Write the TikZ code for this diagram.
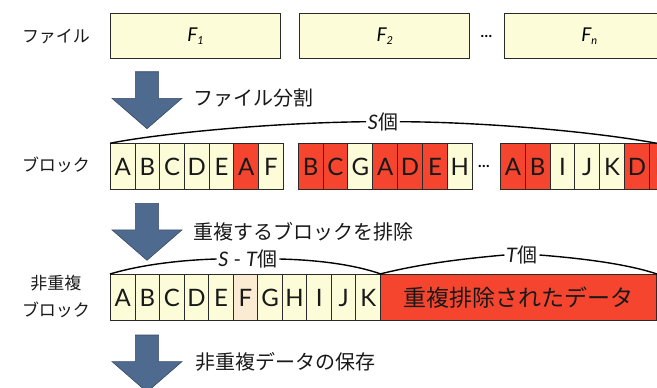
\documentclass[tikz,border=0pt]{standalone}
\usepackage{fontspec}
\setmainfont{Lato}
\newfontfamily\jp{Noto Sans CJK JP}
\definecolor{cellyel}{HTML}{FCFCD9}
\definecolor{cellred}{HTML}{F6452F}
\definecolor{cellpeach}{HTML}{FBEBD3}
\definecolor{arrowblue}{HTML}{4F6A8F}
\definecolor{edgegray}{HTML}{2A2A2A}
\newcommand\fsub[1]{\raisebox{-2.5pt}{\fontsize{11}{11}\selectfont #1}}
\begin{document}
\begin{tikzpicture}[x=1pt,y=-1pt,
  cell/.style={draw=edgegray, line width=1pt, minimum height=46pt, inner sep=0pt,
    anchor=north west, font=\fontsize{24}{24}\selectfont, text=black!90},
  filebox/.style={draw=edgegray, line width=1pt, minimum height=45.6pt, minimum width=170pt,
    inner sep=0pt, anchor=north west, fill=cellyel, font=\fontsize{19}{19}\selectfont\itshape},
  sidelabel/.style={font=\jp\fontsize{17}{17}\selectfont, text=black!90, inner sep=0pt},
  steplabel/.style={font=\jp\fontsize{20}{20}\selectfont, text=black!90, inner sep=0pt, anchor=west},
  countlabel/.style={font=\fontsize{20}{20}\selectfont, text=black!90, inner sep=1.5pt},
  brk/.style={draw=black, line width=1.4pt},
  dotslabel/.style={font=\fontsize{15}{15}\selectfont\bfseries, inner sep=0pt, text=black},
  bigarrow/.pic={\draw[fill=arrowblue, draw=arrowblue!70!black, line width=0.6pt, line join=miter]
     (-11.6,0) -- (11.6,0) -- (11.6,26.6) -- (35,26.6) -- (0,57) -- (-35,26.6) -- (-11.6,26.6) -- cycle;}
]
\useasboundingbox (0,0) rectangle (657,388);
\clip (0,0) rectangle (657,388);

% Row 1: files
\node[sidelabel] (lfile) at (56,37) {ファイル};
\node[filebox] (f1) at (110,12.7) {F\fsub{1}};
\node[filebox] (f2) at (299.3,12.7) {F\fsub{2}};
\node[dotslabel] (fdots) at (486.5,36) {…};
\node[filebox] (fn) at (503.7,12.7) {F\fsub{\itshape n}};

% Arrow 1
\pic at (147,71.7) {bigarrow};
\node[steplabel] (step1) at (193,98.3) {ファイル分割};

% Row 2: blocks
\node[sidelabel] (lblock) at (56,165) {ブロック};
\foreach \l/\c [count=\i] in {A/cellyel,B/cellyel,C/cellyel,D/cellyel,E/cellyel,A/cellred,F/cellyel}
  \node[cell, fill=\c, minimum width=24.67pt] (ga\i) at ({110+(\i-1)*24.67},143.3) {\l};
\foreach \l/\c [count=\i] in {B/cellred,C/cellred,G/cellyel,A/cellred,D/cellred,E/cellred,H/cellyel}
  \node[cell, fill=\c, minimum width=24.86pt] (gb\i) at ({297.7+(\i-1)*24.86},143.3) {\l};
\node[dotslabel] (bdots) at (484,166.5) {…};
\foreach \l/\c [count=\i] in {A/cellred,B/cellred,I/cellyel,J/cellyel,K/cellyel,D/cellred,E/cellred}
  \node[cell, fill=\c, minimum width=24.8pt] (gc\i) at ({500+(\i-1)*24.8},143.3) {\l};

% S bracket
\node[countlabel] (scount) at (383,121.7) {\textit{S}{\jp 個}};
\coordinate (send) at (657,143.3);
\draw[brk] (ga1.north west) .. controls (150,135) and (260,123) .. (scount.west);
\draw[brk] (scount.east) .. controls (480,122) and (590,131) .. (send);

% Arrow 2
\pic at (147,203.3) {bigarrow};
\node[steplabel] (step2) at (193,231.7) {重複するブロックを排除};

% Row 3: non-duplicate blocks
\node[sidelabel] (lnd1) at (56,283.3) {非重複};
\node[sidelabel] (lnd2) at (56,310) {ブロック};
\foreach \l/\c [count=\i] in {A/cellyel,B/cellyel,C/cellyel,D/cellyel,E/cellyel,F/cellpeach,G/cellyel,H/cellyel,I/cellyel,J/cellyel,K/cellyel}
  \node[cell, fill=\c, minimum width=24.545pt] (gd\i) at ({110+(\i-1)*24.545},274) {\l};
\node[cell, fill=cellred, minimum width=276pt, font=\jp\fontsize{23}{23}\selectfont] (dedup) at (380,274) {重複排除されたデータ};

% S-T bracket
\node[countlabel] (stcount) at (248,259) {\textit{S} - \textit{T}{\jp 個}};
\draw[brk] (gd1.north west) .. controls (140,265) and (180,260) .. (stcount.west);
\draw[brk] (stcount.east) .. controls (320,260) and (355,265) .. (gd11.north east);

% T bracket
\node[countlabel] (tcount) at (522,255) {\textit{T}{\jp 個}};
\draw[brk] (dedup.north west) .. controls (420,264) and (460,259) .. (tcount.west);
\draw[brk] (tcount.east) .. controls (590,259) and (630,265) .. (dedup.north east);

% Arrow 3
\pic at (147,335) {bigarrow};
\node[steplabel] (step3) at (195,361.7) {非重複データの保存};
\end{tikzpicture}
\end{document}
